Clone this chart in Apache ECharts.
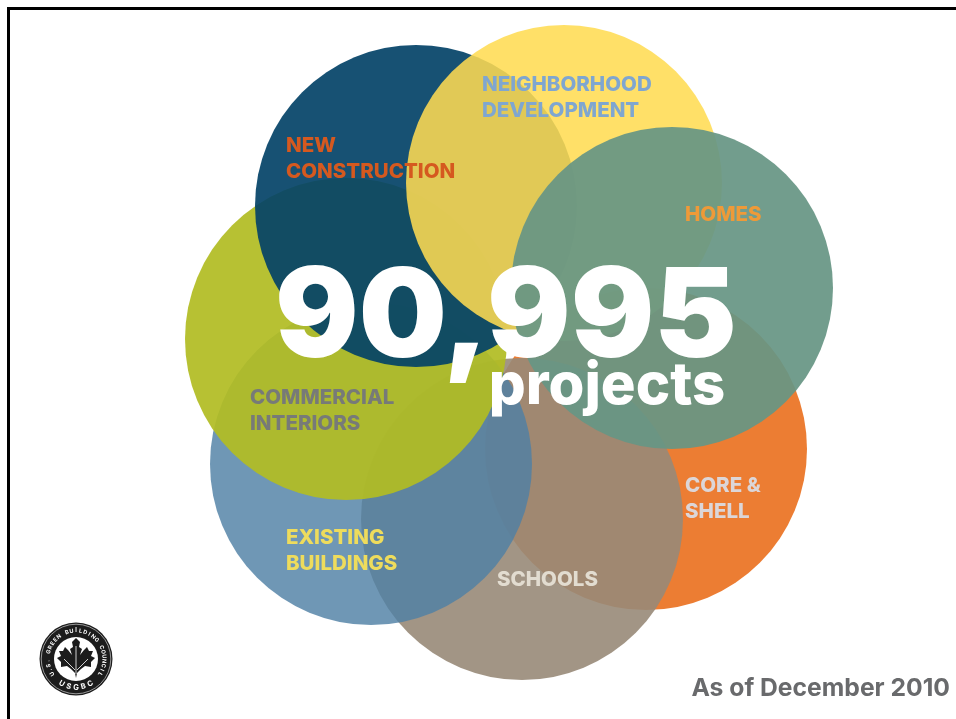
<!DOCTYPE html>
<html>
<head>
<meta charset="utf-8">
<style>html,body{margin:0;padding:0;background:#fff}#chart{width:956px;height:719px}</style>
<script src="https://cdn.jsdelivr.net/npm/echarts@6/dist/echarts.min.js"></script>
</head>
<body>
<div id="chart"></div>
<script>
// Rating systems, stacked from the back circle to the front one.
const ratingSystems = ['Core & Shell', 'Schools', 'Existing Buildings', 'Commercial Interiors', 'New Construction', 'Neighborhood Development', 'Homes'];
const petalX = [646, 522, 371, 346, 416, 564, 672];
const petalY = [449, 519, 464, 339, 206, 183, 288];
const petalDiameter = [322, 322, 322, 322, 322, 316, 322];
const petalColors = ['rgb(236,125,51)', 'rgba(152,138,120,.9)', 'rgba(79,128,165,.82)', 'rgba(178,188,36,.93)', 'rgba(3,66,103,.92)', 'rgba(255,219,82,.87)', 'rgba(103,150,132,.93)'];

// Petal captions, anchored at the left end of their text.
const captions = ['CORE &\nSHELL', 'SCHOOLS', 'EXISTING\nBUILDINGS', 'COMMERCIAL\nINTERIORS', 'NEW\nCONSTRUCTION', 'NEIGHBORHOOD\nDEVELOPMENT', 'HOMES'];
const captionX = [685, 497, 286, 250, 286, 482, 685];
const captionY = [499, 580, 551, 411, 159, 98, 215];
const captionColors = ['#dcd6d8', '#e2dcd0', '#eedc5c', '#777a78', '#d5591f', '#7fa6d0', '#ee9a38'];

const totalProjects = '90,995';
const totalUnit = 'projects';
const asOfNote = 'As of December 2010';
const logoRing = 'U.S. GREEN BUILDING COUNCIL';
const logoName = 'USGBC';

const font = 'Inter, "Open Sans", sans-serif';

// Places the letters of a string one by one along an arc around the badge centre.
function arcLetters(text, cx, cy, r, midDeg, stepDeg, size, inward) {
  return Array.from(text).map((ch, i) => {
    const deg = midDeg + (i - (text.length - 1) / 2) * stepDeg * (inward ? 1 : -1);
    const a = deg * Math.PI / 180;
    return {
      type: 'text', z: 30,
      x: cx + r * Math.sin(a), y: cy - r * Math.cos(a),
      rotation: inward ? -a : -(a - Math.PI),
      style: { text: ch, fill: '#fff', font: '700 ' + size + 'px ' + font, align: 'center', verticalAlign: 'middle' }
    };
  });
}

const logoX = 76, logoY = 659;
// Oak-leaf emblem outline and its veins, relative to the badge centre.
const leafOutline = [[0,-20],[4,-16],[3,-11],[6,-9],[4,-3],[8,-8],[11,-11],[13,-7],[17,-7],[15,-2],[19,0],[15,4],[15,9],[9,8],[5,11],[1,15],[0,20],[-1,15],[-5,11],[-9,8],[-15,9],[-15,4],[-19,0],[-15,-2],[-17,-7],[-13,-7],[-11,-11],[-8,-8],[-4,-3],[-6,-9],[-3,-11],[-4,-16]];
const leafVeins = [[[0,-12],[0,16]], [[-12,1],[-1,12]], [[12,1],[1,12]]];

const chart = echarts.init(document.getElementById('chart'));
chart.setOption({
  animation: false,
  backgroundColor: '#fff',
  grid: { left: 0, right: 0, top: 0, bottom: 0 },
  xAxis: { type: 'value', min: 0, max: 956, show: false },
  yAxis: { type: 'value', min: 0, max: 719, inverse: true, show: false },
  series: [
    {
      name: 'Rating systems',
      type: 'scatter',
      silent: true,
      data: ratingSystems.map((name, i) => ({
        name,
        value: [petalX[i], petalY[i]],
        symbolSize: petalDiameter[i],
        itemStyle: { color: petalColors[i], opacity: 1 }
      }))
    },
    {
      name: 'Captions',
      type: 'scatter',
      silent: true,
      symbolSize: 0,
      z: 5,
      itemStyle: { opacity: 1 },
      data: captions.map((text, i) => ({
        value: [captionX[i], captionY[i]],
        label: {
          show: true, position: 'right', distance: 0, formatter: text, opacity: 1,
          color: captionColors[i], fontFamily: font, fontWeight: 800, fontSize: 20.5, lineHeight: 26
        }
      }))
    }
  ],
  graphic: [
    { type: 'rect', z: 20, shape: { x: 8.5, y: 8.5, width: 960, height: 720 }, style: { fill: 'none', stroke: '#000', lineWidth: 3 } },
    { type: 'text', z: 20, x: 506, y: 320, style: { text: totalProjects, fill: '#fff', font: '900 124px ' + font, align: 'center', verticalAlign: 'middle' } },
    { type: 'text', z: 20, x: 607, y: 387, style: { text: totalUnit, fill: '#fff', font: '800 58px ' + font, align: 'center', verticalAlign: 'middle' } },
    { type: 'text', z: 20, x: 950, y: 689, style: { text: asOfNote, fill: '#696a6c', font: '700 24.7px ' + font, align: 'right', verticalAlign: 'middle' } },
    { type: 'circle', z: 25, shape: { cx: logoX, cy: logoY, r: 36.5 }, style: { fill: '#1c1c1c' } },
    { type: 'circle', z: 26, shape: { cx: logoX, cy: logoY, r: 34.8 }, style: { fill: 'none', stroke: '#cfcfcf', lineWidth: 0.7 } },
    { type: 'circle', z: 26, shape: { cx: logoX, cy: logoY, r: 22 }, style: { fill: '#fff' } },
    { type: 'polygon', z: 27, x: logoX, y: logoY - 1, shape: { points: leafOutline }, style: { fill: '#1c1c1c' } },
    ...leafVeins.map(points => ({ type: 'polyline', z: 28, x: logoX, y: logoY - 1, shape: { points }, style: { stroke: '#fff', lineWidth: 0.8, fill: 'none' } })),
    ...arcLetters(logoRing, logoX, logoY, 28.2, 0, 9.4, 5.6, true),
    ...arcLetters(logoName, logoX, logoY, 28.5, 180, 15, 7.5, false)
  ]
});
</script>
</body>
</html>
